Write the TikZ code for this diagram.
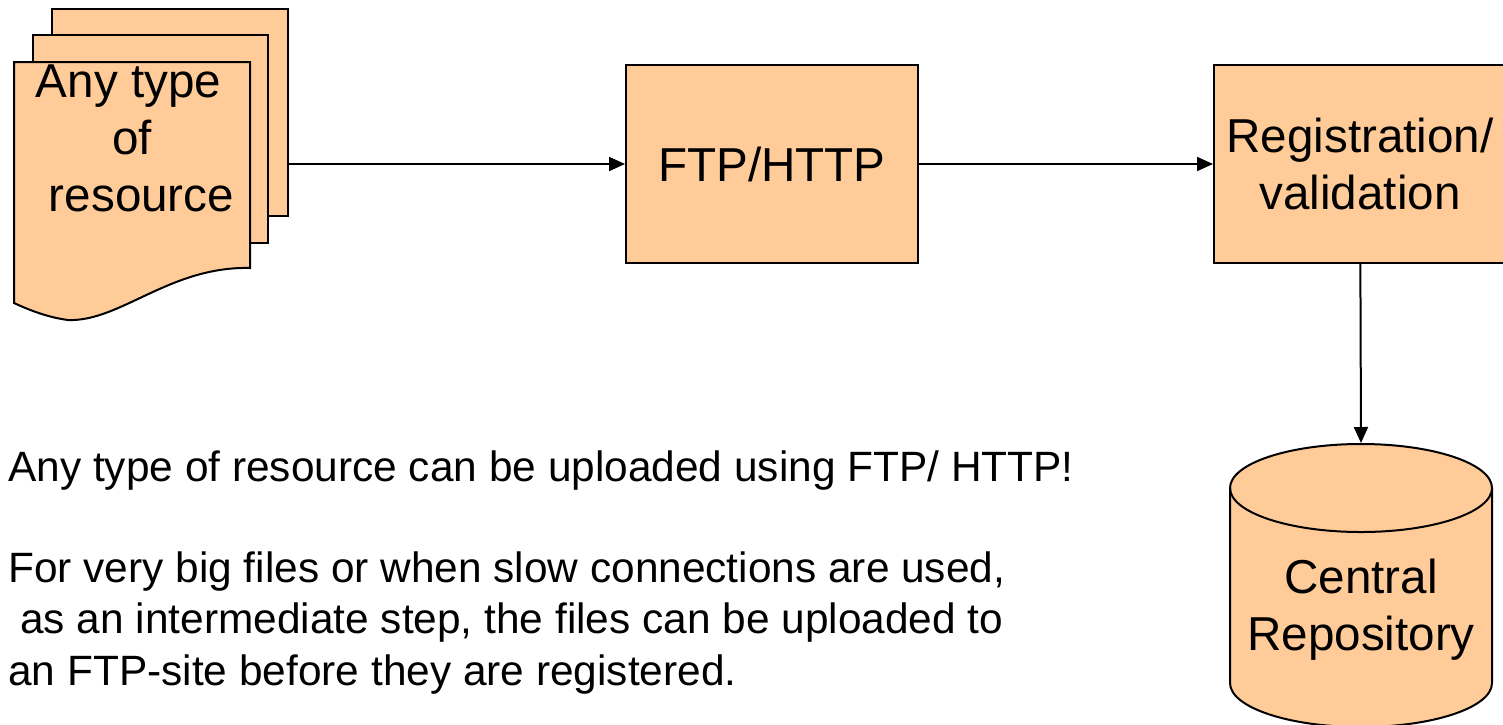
\documentclass[tikz,border=0pt]{standalone}
\usepackage{fontspec}
\setmainfont{Liberation Sans}
\usepackage{tikz}
\usetikzlibrary{arrows.meta}
\definecolor{peach}{HTML}{FFCC99}
\newcommand\boxfont{\fontsize{23.8}{28.5}\selectfont}
\newcommand\notefont{\fontsize{21.2}{25.7}\selectfont}

\begin{document}
\begin{tikzpicture}[x=0.5pt,y=-0.5pt,
  box/.style={draw,fill=peach,line width=1pt,minimum width=146pt,minimum height=99pt,font=\boxfont,align=center},
  page/.style={draw,fill=peach,line width=1pt},
  link/.style={-{Triangle[length=8pt,width=7pt]},line width=1pt}]
\useasboundingbox (0,0) rectangle (1503,724);
% stack of documents
\draw[page] (52,9) rectangle (288,216);
\draw[page] (33,35) rectangle (268,243);
\draw[page] (14,62) -- (250,62) -- (250,268)
  .. controls (170,266) and (120,322) .. (68,320)
  .. controls (45,317) and (25,308) .. (14,303) -- cycle;
\node[font=\boxfont,align=center] (res) at (132,138)
  {Any type\hspace*{3.5pt}\\of\\\hspace*{9.5pt}resource};
\coordinate (docout) at (288,164);
% process boxes
\node[box] (ftp) at (772,164) {FTP/HTTP};
\node[box] (reg) at (1360,164) {Registration/\\validation};
% repository
\draw[page] (1230,488) -- (1230,683) arc[start angle=180,end angle=360,x radius=65.5pt,y radius=22pt]
  -- (1492,488) arc[start angle=0,end angle=180,x radius=65.5pt,y radius=22pt];
\draw[line width=1pt] (1230,488) arc[start angle=180,end angle=360,x radius=65.5pt,y radius=22pt];
\coordinate (repotop) at (1361,443);
\node[font=\boxfont,align=center] (repo) at (1361,610) {Central\\Repository};
% connectors
\draw[link] (docout) -- (ftp);
\draw[link] (ftp) -- (reg);
\draw[link] (reg) -- (repotop);
% notes
\node[anchor=base west,font=\notefont,inner sep=0pt] (note1) at (8,481) {Any type of resource can be uploaded using FTP/ HTTP!};
\node[anchor=base west,font=\notefont,align=left,inner sep=0pt] (note2) at (8,685)
  {For very big files or when slow connections are used,\\\hspace*{0.28em}as an intermediate step, the files can be uploaded to\\an FTP-site before they are registered.};
\end{tikzpicture}
\end{document}
